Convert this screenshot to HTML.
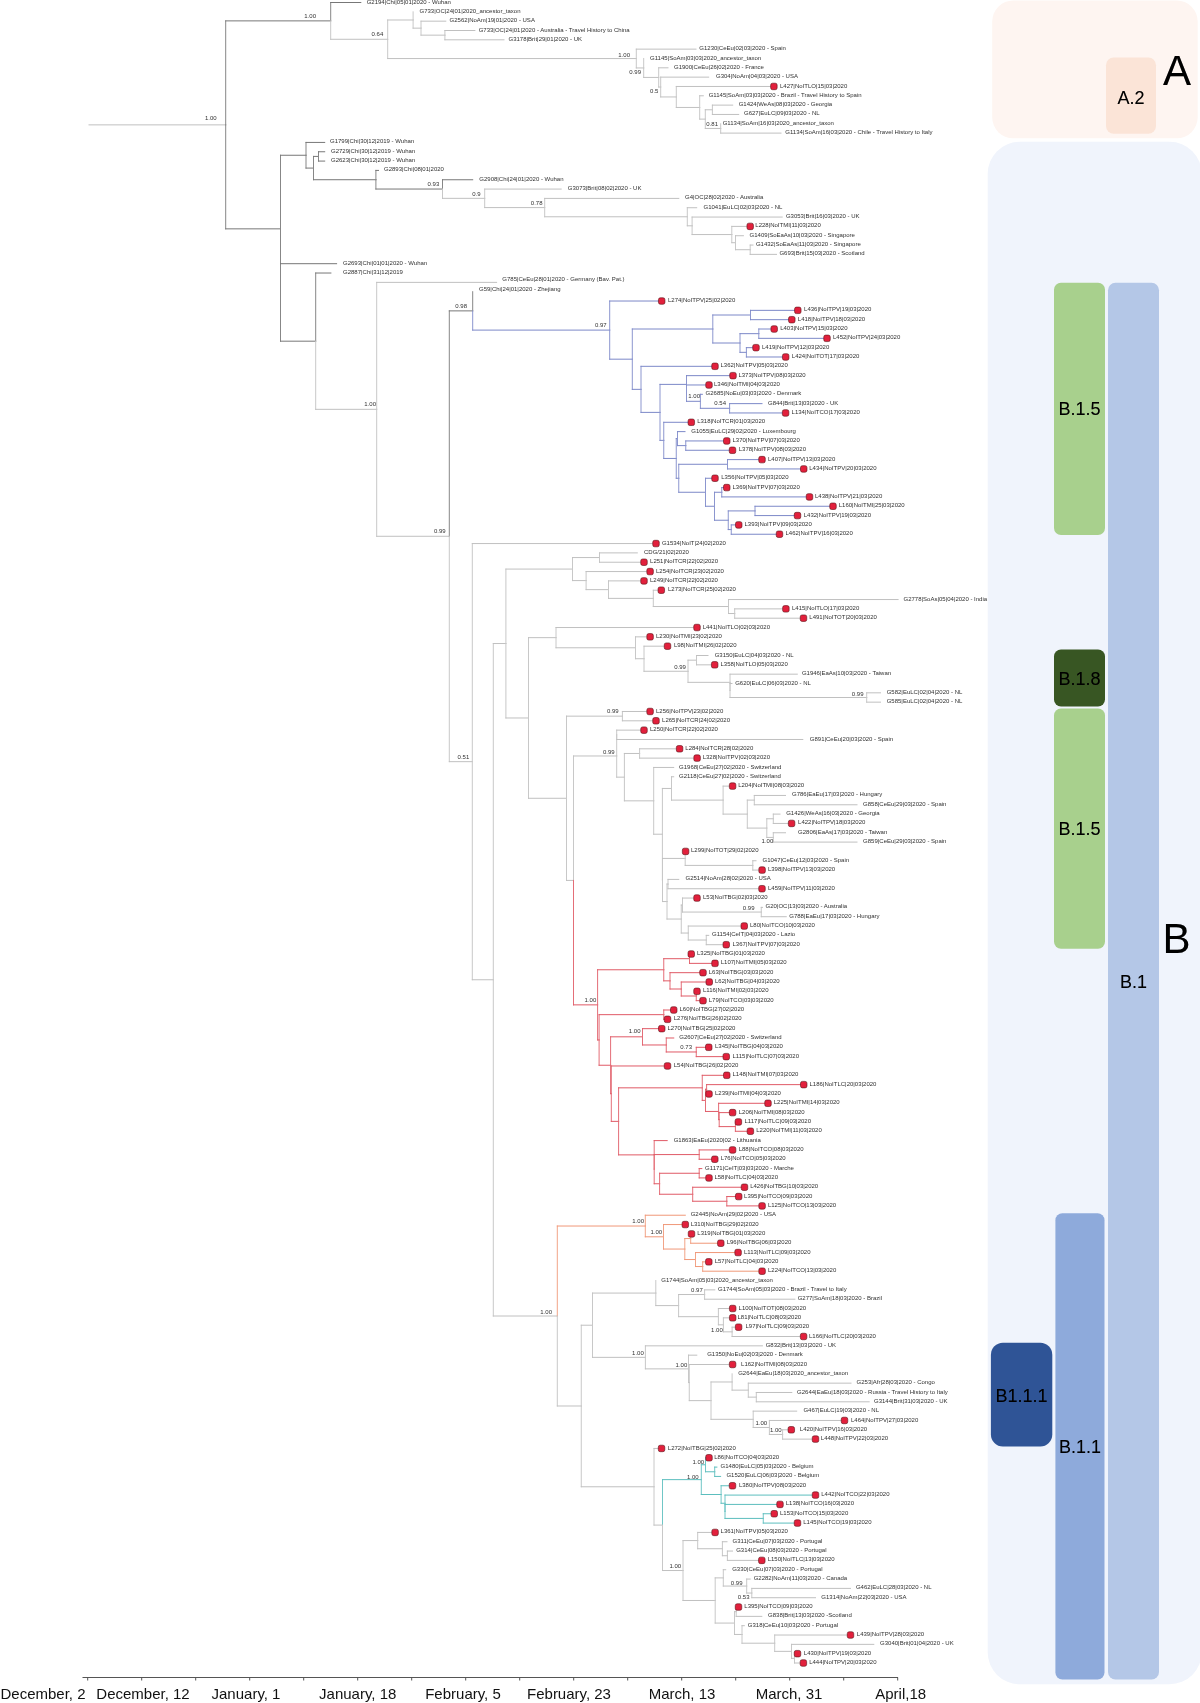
<!DOCTYPE html>
<html><head><meta charset="utf-8"><title>Phylogenetic tree</title>
<style>html,body{margin:0;padding:0;background:#fff;}body{width:1200px;height:1703px;overflow:hidden;font-family:"Liberation Sans",sans-serif;}svg{display:block;will-change:transform;}</style>
</head><body>
<svg width="1200" height="1703" viewBox="0 0 1200 1703">
<rect x="992.2" y="0.5" width="205.5" height="137.8" rx="21" fill="#fef5f1"/>
<rect x="1106" y="57.5" width="50" height="76.3" rx="7.7" fill="#fbe4d7"/>
<rect x="987.7" y="141.8" width="214" height="1542.5" rx="32" fill="#f0f4fc"/>
<rect x="1054" y="282.7" width="51" height="252.3" rx="7" fill="#a8d08d"/>
<rect x="1054" y="649.5" width="51" height="57.1" rx="7" fill="#385623"/>
<rect x="1054" y="708.5" width="51" height="240.3" rx="7" fill="#a8d08d"/>
<rect x="1108" y="282.7" width="51" height="1396.8" rx="7.5" fill="#b4c7e7"/>
<rect x="1055.4" y="1213.2" width="49.1" height="466.3" rx="7" fill="#8eaadb"/>
<rect x="990.9" y="1342.8" width="61.4" height="103.8" rx="12" fill="#2f5496"/>
<g font-family="Liberation Sans, sans-serif" fill="#000" text-anchor="middle" font-size="18" style="filter:drop-shadow(0.6px 0.8px 0.6px rgba(0,0,0,0.35))">
<text x="1131" y="103.5">A.2</text>
<text x="1079.5" y="415">B.1.5</text>
<text x="1079.5" y="685">B.1.8</text>
<text x="1079.5" y="835">B.1.5</text>
<text x="1133.5" y="988">B.1</text>
<text x="1021.6" y="1401.5">B1.1.1</text>
<text x="1080" y="1453">B.1.1</text>
<text x="1177" y="85.3" font-size="42">A</text>
<text x="1176.5" y="953.4" font-size="42">B</text>
</g>
<g stroke-width="1" fill="none" stroke-linecap="square">
<path d="M89 124.87L225.7 124.87" stroke="#c0c0c0"/>
<path d="M225.7 124.87L225.7 20.88" stroke="#878787"/>
<path d="M225.7 20.88L330.7 20.88" stroke="#777777"/>
<path d="M330.7 20.88L330.7 2.5" stroke="#878787"/>
<path d="M330.7 2.5L360.8 2.5" stroke="#777777"/>
<path d="M330.7 20.88L330.7 39.27" stroke="#c8c8c8"/>
<path d="M330.7 39.27L387.7 39.27" stroke="#c0c0c0"/>
<path d="M387.7 39.27L387.7 19.99" stroke="#c8c8c8"/>
<path d="M387.7 19.99L413.1 19.99" stroke="#c0c0c0"/>
<path d="M413.1 19.99L413.1 11.83" stroke="#c8c8c8"/>
<path d="M413.1 19.99L413.1 28.15" stroke="#c8c8c8"/>
<path d="M413.1 28.15L421 28.15" stroke="#c0c0c0"/>
<path d="M421 28.15L421 21.16" stroke="#c8c8c8"/>
<path d="M421 21.16L445.8 21.16" stroke="#c0c0c0"/>
<path d="M421 28.15L421 35.15" stroke="#c8c8c8"/>
<path d="M421 35.15L444.9 35.15" stroke="#c0c0c0"/>
<path d="M444.9 35.15L444.9 30.49" stroke="#c8c8c8"/>
<path d="M444.9 30.49L474.9 30.49" stroke="#c0c0c0"/>
<path d="M444.9 35.15L444.9 39.81" stroke="#c8c8c8"/>
<path d="M444.9 39.81L504 39.81" stroke="#c0c0c0"/>
<path d="M387.7 39.27L387.7 58.55" stroke="#c8c8c8"/>
<path d="M387.7 58.55L636.3 58.55" stroke="#c0c0c0"/>
<path d="M636.3 58.55L636.3 49.14" stroke="#c8c8c8"/>
<path d="M636.3 49.14L696 49.14" stroke="#c0c0c0"/>
<path d="M636.3 58.55L636.3 67.95" stroke="#c8c8c8"/>
<path d="M636.3 67.95L643.7 67.95" stroke="#c0c0c0"/>
<path d="M643.7 67.95L643.7 58.47" stroke="#c8c8c8"/>
<path d="M643.7 67.95L643.7 77.42" stroke="#c8c8c8"/>
<path d="M643.7 77.42L658.7 77.42" stroke="#c0c0c0"/>
<path d="M658.7 77.42L658.7 67.8" stroke="#c8c8c8"/>
<path d="M658.7 67.8L668 67.8" stroke="#c0c0c0"/>
<path d="M658.7 77.42L658.7 87.04" stroke="#c8c8c8"/>
<path d="M658.7 87.04L660.7 87.04" stroke="#c0c0c0"/>
<path d="M660.7 87.04L660.7 77.13" stroke="#c8c8c8"/>
<path d="M660.7 77.13L708.7 77.13" stroke="#c0c0c0"/>
<path d="M660.7 87.04L660.7 96.95" stroke="#c8c8c8"/>
<path d="M660.7 96.95L676.3 96.95" stroke="#c0c0c0"/>
<path d="M676.3 96.95L676.3 86.46" stroke="#c8c8c8"/>
<path d="M676.3 86.46L773.9 86.46" stroke="#c0c0c0"/>
<path d="M676.3 96.95L676.3 107.45" stroke="#c8c8c8"/>
<path d="M676.3 107.45L699.7 107.45" stroke="#c0c0c0"/>
<path d="M699.7 107.45L699.7 95.79" stroke="#c8c8c8"/>
<path d="M699.7 95.79L703.3 95.79" stroke="#c0c0c0"/>
<path d="M699.7 107.45L699.7 119.11" stroke="#c8c8c8"/>
<path d="M699.7 119.11L705.3 119.11" stroke="#c0c0c0"/>
<path d="M705.3 119.11L705.3 109.78" stroke="#c8c8c8"/>
<path d="M705.3 109.78L712.4 109.78" stroke="#c0c0c0"/>
<path d="M712.4 109.78L712.4 105.12" stroke="#c8c8c8"/>
<path d="M712.4 105.12L732.7 105.12" stroke="#c0c0c0"/>
<path d="M712.4 109.78L712.4 114.44" stroke="#c8c8c8"/>
<path d="M712.4 114.44L738.7 114.44" stroke="#c0c0c0"/>
<path d="M705.3 119.11L705.3 128.44" stroke="#c8c8c8"/>
<path d="M705.3 128.44L720.7 128.44" stroke="#c0c0c0"/>
<path d="M720.7 128.44L720.7 123.77" stroke="#c8c8c8"/>
<path d="M720.7 128.44L720.7 133.1" stroke="#c8c8c8"/>
<path d="M720.7 133.1L781 133.1" stroke="#c0c0c0"/>
<path d="M225.7 124.87L225.7 228.85" stroke="#878787"/>
<path d="M225.7 228.85L280.5 228.85" stroke="#777777"/>
<path d="M280.5 228.85L280.5 155.25" stroke="#878787"/>
<path d="M280.5 155.25L306 155.25" stroke="#777777"/>
<path d="M306 155.25L306 142.43" stroke="#878787"/>
<path d="M306 142.43L324.7 142.43" stroke="#777777"/>
<path d="M306 155.25L306 168.08" stroke="#878787"/>
<path d="M306 168.08L313.5 168.08" stroke="#777777"/>
<path d="M313.5 168.08L313.5 156.42" stroke="#878787"/>
<path d="M313.5 156.42L318.5 156.42" stroke="#777777"/>
<path d="M318.5 156.42L318.5 151.76" stroke="#878787"/>
<path d="M318.5 151.76L324.7 151.76" stroke="#777777"/>
<path d="M318.5 156.42L318.5 161.09" stroke="#878787"/>
<path d="M318.5 161.09L324.7 161.09" stroke="#777777"/>
<path d="M313.5 168.08L313.5 179.73" stroke="#878787"/>
<path d="M313.5 179.73L375.9 179.73" stroke="#777777"/>
<path d="M375.9 179.73L375.9 170.42" stroke="#878787"/>
<path d="M375.9 170.42L378.5 170.42" stroke="#777777"/>
<path d="M375.9 179.73L375.9 189.04" stroke="#878787"/>
<path d="M375.9 189.04L442.5 189.04" stroke="#777777"/>
<path d="M442.5 189.04L442.5 179.75" stroke="#878787"/>
<path d="M442.5 179.75L472.7 179.75" stroke="#777777"/>
<path d="M442.5 189.04L442.5 198.33" stroke="#c8c8c8"/>
<path d="M442.5 198.33L484.7 198.33" stroke="#c0c0c0"/>
<path d="M484.7 198.33L484.7 189.07" stroke="#c8c8c8"/>
<path d="M484.7 189.07L561.2 189.07" stroke="#c0c0c0"/>
<path d="M484.7 198.33L484.7 207.59" stroke="#c8c8c8"/>
<path d="M484.7 207.59L544.7 207.59" stroke="#c0c0c0"/>
<path d="M544.7 207.59L544.7 198.4" stroke="#c8c8c8"/>
<path d="M544.7 198.4L678.8 198.4" stroke="#c0c0c0"/>
<path d="M544.7 207.59L544.7 216.77" stroke="#c8c8c8"/>
<path d="M544.7 216.77L687.3 216.77" stroke="#c0c0c0"/>
<path d="M687.3 216.77L687.3 207.73" stroke="#c8c8c8"/>
<path d="M687.3 207.73L696.7 207.73" stroke="#c0c0c0"/>
<path d="M687.3 216.77L687.3 225.81" stroke="#c8c8c8"/>
<path d="M687.3 225.81L692.1 225.81" stroke="#c0c0c0"/>
<path d="M692.1 225.81L692.1 217.06" stroke="#c8c8c8"/>
<path d="M692.1 217.06L782.2 217.06" stroke="#c0c0c0"/>
<path d="M692.1 225.81L692.1 234.55" stroke="#c8c8c8"/>
<path d="M692.1 234.55L731.8 234.55" stroke="#c0c0c0"/>
<path d="M731.8 234.55L731.8 226.39" stroke="#c8c8c8"/>
<path d="M731.8 226.39L750.2 226.39" stroke="#c0c0c0"/>
<path d="M731.8 234.55L731.8 242.71" stroke="#c8c8c8"/>
<path d="M731.8 242.71L735.5 242.71" stroke="#c0c0c0"/>
<path d="M735.5 242.71L735.5 235.72" stroke="#c8c8c8"/>
<path d="M735.5 235.72L743.4 235.72" stroke="#c0c0c0"/>
<path d="M735.5 242.71L735.5 249.71" stroke="#c8c8c8"/>
<path d="M735.5 249.71L750.2 249.71" stroke="#c0c0c0"/>
<path d="M750.2 249.71L750.2 245.05" stroke="#c8c8c8"/>
<path d="M750.2 245.05L753 245.05" stroke="#c0c0c0"/>
<path d="M750.2 249.71L750.2 254.37" stroke="#c8c8c8"/>
<path d="M750.2 254.37L776.5 254.37" stroke="#c0c0c0"/>
<path d="M280.5 228.85L280.5 302.44" stroke="#878787"/>
<path d="M280.5 302.44L280.5 263.7" stroke="#878787"/>
<path d="M280.5 263.7L336.6 263.7" stroke="#777777"/>
<path d="M280.5 302.44L280.5 341.18" stroke="#878787"/>
<path d="M280.5 341.18L315.7 341.18" stroke="#777777"/>
<path d="M315.7 341.18L315.7 273.03" stroke="#878787"/>
<path d="M315.7 273.03L330.9 273.03" stroke="#777777"/>
<path d="M315.7 341.18L315.7 409.32" stroke="#c8c8c8"/>
<path d="M315.7 409.32L376.7 409.32" stroke="#c0c0c0"/>
<path d="M376.7 409.32L376.7 282.36" stroke="#c8c8c8"/>
<path d="M376.7 282.36L496.6 282.36" stroke="#c0c0c0"/>
<path d="M376.7 409.32L376.7 536.28" stroke="#c8c8c8"/>
<path d="M376.7 536.28L449.3 536.28" stroke="#c0c0c0"/>
<path d="M449.3 536.28L449.3 310.89" stroke="#878787"/>
<path d="M449.3 310.89L472.7 310.89" stroke="#777777"/>
<path d="M472.7 310.89L472.7 291.69" stroke="#878787"/>
<path d="M472.7 310.89L472.7 330.1" stroke="#8c96cf"/>
<path d="M472.7 330.1L609.7 330.1" stroke="#7c88c8"/>
<path d="M609.7 330.1L609.7 301.02" stroke="#8c96cf"/>
<path d="M609.7 301.02L661.7 301.02" stroke="#7c88c8"/>
<path d="M609.7 330.1L609.7 359.18" stroke="#8c96cf"/>
<path d="M609.7 359.18L632.3 359.18" stroke="#7c88c8"/>
<path d="M632.3 359.18L632.3 329" stroke="#8c96cf"/>
<path d="M632.3 329L712.8 329" stroke="#7c88c8"/>
<path d="M712.8 329L712.8 315.01" stroke="#8c96cf"/>
<path d="M712.8 315.01L750.5 315.01" stroke="#7c88c8"/>
<path d="M750.5 315.01L750.5 310.35" stroke="#8c96cf"/>
<path d="M750.5 310.35L797.8 310.35" stroke="#7c88c8"/>
<path d="M750.5 315.01L750.5 319.68" stroke="#8c96cf"/>
<path d="M750.5 319.68L791.8 319.68" stroke="#7c88c8"/>
<path d="M712.8 329L712.8 343" stroke="#8c96cf"/>
<path d="M712.8 343L740 343" stroke="#7c88c8"/>
<path d="M740 343L740 333.67" stroke="#8c96cf"/>
<path d="M740 333.67L758.8 333.67" stroke="#7c88c8"/>
<path d="M758.8 333.67L758.8 329" stroke="#8c96cf"/>
<path d="M758.8 329L774.2 329" stroke="#7c88c8"/>
<path d="M758.8 333.67L758.8 338.33" stroke="#8c96cf"/>
<path d="M758.8 338.33L827 338.33" stroke="#7c88c8"/>
<path d="M740 343L740 352.33" stroke="#8c96cf"/>
<path d="M740 352.33L746.4 352.33" stroke="#7c88c8"/>
<path d="M746.4 352.33L746.4 347.66" stroke="#8c96cf"/>
<path d="M746.4 347.66L756 347.66" stroke="#7c88c8"/>
<path d="M746.4 352.33L746.4 356.99" stroke="#8c96cf"/>
<path d="M746.4 356.99L785.7 356.99" stroke="#7c88c8"/>
<path d="M632.3 359.18L632.3 389.35" stroke="#8c96cf"/>
<path d="M632.3 389.35L641 389.35" stroke="#7c88c8"/>
<path d="M641 389.35L641 366.32" stroke="#8c96cf"/>
<path d="M641 366.32L715 366.32" stroke="#7c88c8"/>
<path d="M641 389.35L641 412.38" stroke="#8c96cf"/>
<path d="M641 412.38L660 412.38" stroke="#7c88c8"/>
<path d="M660 412.38L660 384.39" stroke="#8c96cf"/>
<path d="M660 384.39L686.5 384.39" stroke="#7c88c8"/>
<path d="M686.5 384.39L686.5 375.65" stroke="#8c96cf"/>
<path d="M686.5 375.65L733 375.65" stroke="#7c88c8"/>
<path d="M686.5 384.39L686.5 393.14" stroke="#8c96cf"/>
<path d="M686.5 393.14L686.5 384.98" stroke="#8c96cf"/>
<path d="M686.5 384.98L709 384.98" stroke="#7c88c8"/>
<path d="M686.5 393.14L686.5 401.3" stroke="#8c96cf"/>
<path d="M686.5 401.3L700.4 401.3" stroke="#7c88c8"/>
<path d="M700.4 401.3L700.4 394.31" stroke="#8c96cf"/>
<path d="M700.4 394.31L702.4 394.31" stroke="#7c88c8"/>
<path d="M700.4 401.3L700.4 408.3" stroke="#8c96cf"/>
<path d="M700.4 408.3L729.6 408.3" stroke="#7c88c8"/>
<path d="M729.6 408.3L729.6 403.63" stroke="#8c96cf"/>
<path d="M729.6 403.63L762 403.63" stroke="#7c88c8"/>
<path d="M729.6 408.3L729.6 412.96" stroke="#8c96cf"/>
<path d="M729.6 412.96L785.6 412.96" stroke="#7c88c8"/>
<path d="M660 412.38L660 440.37" stroke="#8c96cf"/>
<path d="M660 440.37L663.75 440.37" stroke="#7c88c8"/>
<path d="M663.75 440.37L663.75 422.29" stroke="#8c96cf"/>
<path d="M663.75 422.29L691.3 422.29" stroke="#7c88c8"/>
<path d="M663.75 440.37L663.75 458.44" stroke="#8c96cf"/>
<path d="M663.75 458.44L676.25 458.44" stroke="#7c88c8"/>
<path d="M676.25 458.44L676.25 438.62" stroke="#8c96cf"/>
<path d="M676.25 438.62L677.5 438.62" stroke="#7c88c8"/>
<path d="M677.5 438.62L677.5 431.62" stroke="#8c96cf"/>
<path d="M677.5 431.62L685 431.62" stroke="#7c88c8"/>
<path d="M677.5 438.62L677.5 445.61" stroke="#8c96cf"/>
<path d="M677.5 445.61L685.75 445.61" stroke="#7c88c8"/>
<path d="M685.75 445.61L685.75 440.95" stroke="#8c96cf"/>
<path d="M685.75 440.95L726.75 440.95" stroke="#7c88c8"/>
<path d="M685.75 445.61L685.75 450.28" stroke="#8c96cf"/>
<path d="M685.75 450.28L732.5 450.28" stroke="#7c88c8"/>
<path d="M676.25 458.44L676.25 478.26" stroke="#8c96cf"/>
<path d="M676.25 478.26L678.75 478.26" stroke="#7c88c8"/>
<path d="M678.75 478.26L678.75 464.27" stroke="#8c96cf"/>
<path d="M678.75 464.27L727.5 464.27" stroke="#7c88c8"/>
<path d="M727.5 464.27L727.5 459.61" stroke="#8c96cf"/>
<path d="M727.5 459.61L762 459.61" stroke="#7c88c8"/>
<path d="M727.5 464.27L727.5 468.94" stroke="#8c96cf"/>
<path d="M727.5 468.94L803.75 468.94" stroke="#7c88c8"/>
<path d="M678.75 478.26L678.75 492.26" stroke="#8c96cf"/>
<path d="M678.75 492.26L705.5 492.26" stroke="#7c88c8"/>
<path d="M705.5 492.26L705.5 478.26" stroke="#8c96cf"/>
<path d="M705.5 478.26L715 478.26" stroke="#7c88c8"/>
<path d="M705.5 492.26L705.5 506.25" stroke="#8c96cf"/>
<path d="M705.5 506.25L714.5 506.25" stroke="#7c88c8"/>
<path d="M714.5 506.25L714.5 492.26" stroke="#8c96cf"/>
<path d="M714.5 492.26L721.75 492.26" stroke="#7c88c8"/>
<path d="M721.75 492.26L721.75 487.59" stroke="#8c96cf"/>
<path d="M721.75 487.59L726.75 487.59" stroke="#7c88c8"/>
<path d="M721.75 492.26L721.75 496.92" stroke="#8c96cf"/>
<path d="M721.75 496.92L809.5 496.92" stroke="#7c88c8"/>
<path d="M714.5 506.25L714.5 520.24" stroke="#8c96cf"/>
<path d="M714.5 520.24L728.25 520.24" stroke="#7c88c8"/>
<path d="M728.25 520.24L728.25 510.91" stroke="#8c96cf"/>
<path d="M728.25 510.91L755 510.91" stroke="#7c88c8"/>
<path d="M755 510.91L755 506.25" stroke="#8c96cf"/>
<path d="M755 506.25L833 506.25" stroke="#7c88c8"/>
<path d="M755 510.91L755 515.58" stroke="#8c96cf"/>
<path d="M755 515.58L797.5 515.58" stroke="#7c88c8"/>
<path d="M728.25 520.24L728.25 529.57" stroke="#8c96cf"/>
<path d="M728.25 529.57L731.25 529.57" stroke="#7c88c8"/>
<path d="M731.25 529.57L731.25 524.91" stroke="#8c96cf"/>
<path d="M731.25 524.91L738.75 524.91" stroke="#7c88c8"/>
<path d="M731.25 529.57L731.25 534.24" stroke="#8c96cf"/>
<path d="M731.25 534.24L779.5 534.24" stroke="#7c88c8"/>
<path d="M449.3 536.28L449.3 761.66" stroke="#c8c8c8"/>
<path d="M449.3 761.66L472.3 761.66" stroke="#c0c0c0"/>
<path d="M472.3 761.66L472.3 543.56" stroke="#c8c8c8"/>
<path d="M472.3 543.56L656 543.56" stroke="#c0c0c0"/>
<path d="M472.3 761.66L472.3 979.76" stroke="#c8c8c8"/>
<path d="M472.3 979.76L493.3 979.76" stroke="#c0c0c0"/>
<path d="M493.3 979.76L493.3 643.52" stroke="#c8c8c8"/>
<path d="M493.3 643.52L505.9 643.52" stroke="#c0c0c0"/>
<path d="M505.9 643.52L505.9 569.07" stroke="#c8c8c8"/>
<path d="M505.9 569.07L572.5 569.07" stroke="#c0c0c0"/>
<path d="M572.5 569.07L572.5 557.56" stroke="#c8c8c8"/>
<path d="M572.5 557.56L599.5 557.56" stroke="#c0c0c0"/>
<path d="M599.5 557.56L599.5 552.89" stroke="#c8c8c8"/>
<path d="M599.5 552.89L637.3 552.89" stroke="#c0c0c0"/>
<path d="M599.5 557.56L599.5 562.22" stroke="#c8c8c8"/>
<path d="M599.5 562.22L644 562.22" stroke="#c0c0c0"/>
<path d="M572.5 569.07L572.5 580.59" stroke="#c8c8c8"/>
<path d="M572.5 580.59L586.1 580.59" stroke="#c0c0c0"/>
<path d="M586.1 580.59L586.1 571.55" stroke="#c8c8c8"/>
<path d="M586.1 571.55L650.1 571.55" stroke="#c0c0c0"/>
<path d="M586.1 580.59L586.1 589.63" stroke="#c8c8c8"/>
<path d="M586.1 589.63L608.5 589.63" stroke="#c0c0c0"/>
<path d="M608.5 589.63L608.5 580.88" stroke="#c8c8c8"/>
<path d="M608.5 580.88L644 580.88" stroke="#c0c0c0"/>
<path d="M608.5 589.63L608.5 598.37" stroke="#c8c8c8"/>
<path d="M608.5 598.37L653.3 598.37" stroke="#c0c0c0"/>
<path d="M653.3 598.37L653.3 590.21" stroke="#c8c8c8"/>
<path d="M653.3 590.21L661.3 590.21" stroke="#c0c0c0"/>
<path d="M653.3 598.37L653.3 606.53" stroke="#c8c8c8"/>
<path d="M653.3 606.53L728.5 606.53" stroke="#c0c0c0"/>
<path d="M728.5 606.53L728.5 599.54" stroke="#c8c8c8"/>
<path d="M728.5 599.54L898.1 599.54" stroke="#c0c0c0"/>
<path d="M728.5 606.53L728.5 613.53" stroke="#c8c8c8"/>
<path d="M728.5 613.53L734.7 613.53" stroke="#c0c0c0"/>
<path d="M734.7 613.53L734.7 608.87" stroke="#c8c8c8"/>
<path d="M734.7 608.87L785.9 608.87" stroke="#c0c0c0"/>
<path d="M734.7 613.53L734.7 618.19" stroke="#c8c8c8"/>
<path d="M734.7 618.19L803.5 618.19" stroke="#c0c0c0"/>
<path d="M505.9 643.52L505.9 717.97" stroke="#c8c8c8"/>
<path d="M505.9 717.97L528.5 717.97" stroke="#c0c0c0"/>
<path d="M528.5 717.97L528.5 637.65" stroke="#c8c8c8"/>
<path d="M528.5 637.65L556 637.65" stroke="#c0c0c0"/>
<path d="M556 637.65L556 627.52" stroke="#c8c8c8"/>
<path d="M556 627.52L697 627.52" stroke="#c0c0c0"/>
<path d="M556 637.65L556 647.78" stroke="#c8c8c8"/>
<path d="M556 647.78L635.5 647.78" stroke="#c0c0c0"/>
<path d="M635.5 647.78L635.5 636.85" stroke="#c8c8c8"/>
<path d="M635.5 636.85L650.1 636.85" stroke="#c0c0c0"/>
<path d="M635.5 647.78L635.5 658.72" stroke="#c8c8c8"/>
<path d="M635.5 658.72L644 658.72" stroke="#c0c0c0"/>
<path d="M644 658.72L644 646.18" stroke="#c8c8c8"/>
<path d="M644 646.18L667.5 646.18" stroke="#c0c0c0"/>
<path d="M644 658.72L644 671.25" stroke="#c8c8c8"/>
<path d="M644 671.25L688 671.25" stroke="#c0c0c0"/>
<path d="M688 671.25L688 660.17" stroke="#c8c8c8"/>
<path d="M688 660.17L696.5 660.17" stroke="#c0c0c0"/>
<path d="M696.5 660.17L696.5 655.51" stroke="#c8c8c8"/>
<path d="M696.5 655.51L708 655.51" stroke="#c0c0c0"/>
<path d="M696.5 660.17L696.5 664.84" stroke="#c8c8c8"/>
<path d="M696.5 664.84L714.7 664.84" stroke="#c0c0c0"/>
<path d="M688 671.25L688 682.33" stroke="#c8c8c8"/>
<path d="M688 682.33L730 682.33" stroke="#c0c0c0"/>
<path d="M730 682.33L730 674.17" stroke="#c8c8c8"/>
<path d="M730 674.17L797.3 674.17" stroke="#c0c0c0"/>
<path d="M730 682.33L730 690.49" stroke="#c8c8c8"/>
<path d="M730 690.49L730 683.5" stroke="#c8c8c8"/>
<path d="M730 683.5L732 683.5" stroke="#c0c0c0"/>
<path d="M730 690.49L730 697.49" stroke="#c8c8c8"/>
<path d="M730 697.49L866.7 697.49" stroke="#c0c0c0"/>
<path d="M866.7 697.49L866.7 692.82" stroke="#c8c8c8"/>
<path d="M866.7 692.82L880.5 692.82" stroke="#c0c0c0"/>
<path d="M866.7 697.49L866.7 702.15" stroke="#c8c8c8"/>
<path d="M866.7 702.15L880.5 702.15" stroke="#c0c0c0"/>
<path d="M528.5 717.97L528.5 798.28" stroke="#c8c8c8"/>
<path d="M528.5 798.28L566.5 798.28" stroke="#c0c0c0"/>
<path d="M566.5 798.28L566.5 716.15" stroke="#c8c8c8"/>
<path d="M566.5 716.15L622.4 716.15" stroke="#c0c0c0"/>
<path d="M622.4 716.15L622.4 711.48" stroke="#c8c8c8"/>
<path d="M622.4 711.48L650.1 711.48" stroke="#c0c0c0"/>
<path d="M622.4 716.15L622.4 720.81" stroke="#c8c8c8"/>
<path d="M622.4 720.81L656 720.81" stroke="#c0c0c0"/>
<path d="M566.5 798.28L566.5 880.42" stroke="#c8c8c8"/>
<path d="M566.5 880.42L573.5 880.42" stroke="#c0c0c0"/>
<path d="M573.5 880.42L573.5 755.97" stroke="#c8c8c8"/>
<path d="M573.5 755.97L616.7 755.97" stroke="#c0c0c0"/>
<path d="M616.7 755.97L616.7 734.8" stroke="#c8c8c8"/>
<path d="M616.7 734.8L616.7 730.14" stroke="#c8c8c8"/>
<path d="M616.7 730.14L644 730.14" stroke="#c0c0c0"/>
<path d="M616.7 734.8L616.7 739.47" stroke="#c8c8c8"/>
<path d="M616.7 739.47L802.8 739.47" stroke="#c0c0c0"/>
<path d="M616.7 755.97L616.7 777.15" stroke="#c8c8c8"/>
<path d="M616.7 777.15L624.4 777.15" stroke="#c0c0c0"/>
<path d="M624.4 777.15L624.4 753.46" stroke="#c8c8c8"/>
<path d="M624.4 753.46L639.6 753.46" stroke="#c0c0c0"/>
<path d="M639.6 753.46L639.6 748.8" stroke="#c8c8c8"/>
<path d="M639.6 748.8L679.6 748.8" stroke="#c0c0c0"/>
<path d="M639.6 753.46L639.6 758.12" stroke="#c8c8c8"/>
<path d="M639.6 758.12L697.1 758.12" stroke="#c0c0c0"/>
<path d="M624.4 777.15L624.4 800.83" stroke="#c8c8c8"/>
<path d="M624.4 800.83L653.7 800.83" stroke="#c0c0c0"/>
<path d="M653.7 800.83L653.7 767.45" stroke="#c8c8c8"/>
<path d="M653.7 767.45L673.7 767.45" stroke="#c0c0c0"/>
<path d="M653.7 800.83L653.7 834.21" stroke="#c8c8c8"/>
<path d="M653.7 834.21L662.4 834.21" stroke="#c0c0c0"/>
<path d="M662.4 834.21L662.4 788.44" stroke="#c8c8c8"/>
<path d="M662.4 788.44L671.5 788.44" stroke="#c0c0c0"/>
<path d="M671.5 788.44L671.5 776.78" stroke="#c8c8c8"/>
<path d="M671.5 776.78L673.7 776.78" stroke="#c0c0c0"/>
<path d="M671.5 788.44L671.5 800.1" stroke="#c8c8c8"/>
<path d="M671.5 800.1L723.1 800.1" stroke="#c0c0c0"/>
<path d="M723.1 800.1L723.1 786.11" stroke="#c8c8c8"/>
<path d="M723.1 786.11L732.6 786.11" stroke="#c0c0c0"/>
<path d="M723.1 800.1L723.1 814.1" stroke="#c8c8c8"/>
<path d="M723.1 814.1L747.3 814.1" stroke="#c0c0c0"/>
<path d="M747.3 814.1L747.3 800.1" stroke="#c8c8c8"/>
<path d="M747.3 800.1L754.3 800.1" stroke="#c0c0c0"/>
<path d="M754.3 800.1L754.3 795.44" stroke="#c8c8c8"/>
<path d="M754.3 795.44L785.5 795.44" stroke="#c0c0c0"/>
<path d="M754.3 800.1L754.3 804.77" stroke="#c8c8c8"/>
<path d="M754.3 804.77L857 804.77" stroke="#c0c0c0"/>
<path d="M747.3 814.1L747.3 828.09" stroke="#c8c8c8"/>
<path d="M747.3 828.09L766.8 828.09" stroke="#c0c0c0"/>
<path d="M766.8 828.09L766.8 818.76" stroke="#c8c8c8"/>
<path d="M766.8 818.76L773.3 818.76" stroke="#c0c0c0"/>
<path d="M773.3 818.76L773.3 814.1" stroke="#c8c8c8"/>
<path d="M773.3 814.1L780 814.1" stroke="#c0c0c0"/>
<path d="M773.3 818.76L773.3 823.43" stroke="#c8c8c8"/>
<path d="M773.3 823.43L791.6 823.43" stroke="#c0c0c0"/>
<path d="M766.8 828.09L766.8 837.42" stroke="#c8c8c8"/>
<path d="M766.8 837.42L773.3 837.42" stroke="#c0c0c0"/>
<path d="M773.3 837.42L773.3 832.75" stroke="#c8c8c8"/>
<path d="M773.3 832.75L785.5 832.75" stroke="#c0c0c0"/>
<path d="M773.3 837.42L773.3 842.08" stroke="#c8c8c8"/>
<path d="M773.3 842.08L857 842.08" stroke="#c0c0c0"/>
<path d="M662.4 834.21L662.4 879.98" stroke="#c8c8c8"/>
<path d="M662.4 879.98L662.5 879.98" stroke="#c0c0c0"/>
<path d="M662.5 879.98L662.5 858.41" stroke="#c8c8c8"/>
<path d="M662.5 858.41L685.2 858.41" stroke="#c0c0c0"/>
<path d="M685.2 858.41L685.2 851.41" stroke="#c8c8c8"/>
<path d="M685.2 851.41L685.6 851.41" stroke="#c0c0c0"/>
<path d="M685.2 858.41L685.2 865.4" stroke="#c8c8c8"/>
<path d="M685.2 865.4L752.8 865.4" stroke="#c0c0c0"/>
<path d="M752.8 865.4L752.8 860.74" stroke="#c8c8c8"/>
<path d="M752.8 860.74L756 860.74" stroke="#c0c0c0"/>
<path d="M752.8 865.4L752.8 870.07" stroke="#c8c8c8"/>
<path d="M752.8 870.07L762.1 870.07" stroke="#c0c0c0"/>
<path d="M662.5 879.98L662.5 901.55" stroke="#c8c8c8"/>
<path d="M662.5 901.55L667 901.55" stroke="#c0c0c0"/>
<path d="M667 901.55L667 884.06" stroke="#c8c8c8"/>
<path d="M667 884.06L668 884.06" stroke="#c0c0c0"/>
<path d="M668 884.06L668 879.4" stroke="#c8c8c8"/>
<path d="M668 879.4L678.75 879.4" stroke="#c0c0c0"/>
<path d="M668 884.06L668 888.73" stroke="#c8c8c8"/>
<path d="M668 888.73L762 888.73" stroke="#c0c0c0"/>
<path d="M667 901.55L667 919.04" stroke="#c8c8c8"/>
<path d="M667 919.04L681.25 919.04" stroke="#c0c0c0"/>
<path d="M681.25 919.04L681.25 905.05" stroke="#c8c8c8"/>
<path d="M681.25 905.05L682.5 905.05" stroke="#c0c0c0"/>
<path d="M682.5 905.05L682.5 898.06" stroke="#c8c8c8"/>
<path d="M682.5 898.06L697 898.06" stroke="#c0c0c0"/>
<path d="M682.5 905.05L682.5 912.05" stroke="#c8c8c8"/>
<path d="M682.5 912.05L761.25 912.05" stroke="#c0c0c0"/>
<path d="M761.25 912.05L761.25 907.38" stroke="#c8c8c8"/>
<path d="M761.25 907.38L762.5 907.38" stroke="#c0c0c0"/>
<path d="M761.25 912.05L761.25 916.71" stroke="#c8c8c8"/>
<path d="M761.25 916.71L786.25 916.71" stroke="#c0c0c0"/>
<path d="M681.25 919.04L681.25 933.04" stroke="#c8c8c8"/>
<path d="M681.25 933.04L688.25 933.04" stroke="#c0c0c0"/>
<path d="M688.25 933.04L688.25 926.04" stroke="#c8c8c8"/>
<path d="M688.25 926.04L744.25 926.04" stroke="#c0c0c0"/>
<path d="M688.25 933.04L688.25 940.03" stroke="#c8c8c8"/>
<path d="M688.25 940.03L706.25 940.03" stroke="#c0c0c0"/>
<path d="M706.25 940.03L706.25 935.37" stroke="#c8c8c8"/>
<path d="M706.25 935.37L708.75 935.37" stroke="#c0c0c0"/>
<path d="M706.25 940.03L706.25 944.7" stroke="#c8c8c8"/>
<path d="M706.25 944.7L726.25 944.7" stroke="#c0c0c0"/>
<path d="M573.5 880.42L573.5 1004.86" stroke="#e46e78"/>
<path d="M573.5 1004.86L597.6 1004.86" stroke="#e05a66"/>
<path d="M597.6 1004.86L597.6 969.77" stroke="#e46e78"/>
<path d="M597.6 969.77L663.75 969.77" stroke="#e05a66"/>
<path d="M663.75 969.77L663.75 958.69" stroke="#e46e78"/>
<path d="M663.75 958.69L689.5 958.69" stroke="#e05a66"/>
<path d="M689.5 958.69L689.5 954.03" stroke="#e46e78"/>
<path d="M689.5 954.03L691.25 954.03" stroke="#e05a66"/>
<path d="M689.5 958.69L689.5 963.36" stroke="#e46e78"/>
<path d="M689.5 963.36L715 963.36" stroke="#e05a66"/>
<path d="M663.75 969.77L663.75 980.85" stroke="#e46e78"/>
<path d="M663.75 980.85L670 980.85" stroke="#e05a66"/>
<path d="M670 980.85L670 972.68" stroke="#e46e78"/>
<path d="M670 972.68L703 972.68" stroke="#e05a66"/>
<path d="M670 980.85L670 989.01" stroke="#e46e78"/>
<path d="M670 989.01L681.25 989.01" stroke="#e05a66"/>
<path d="M681.25 989.01L681.25 982.01" stroke="#e46e78"/>
<path d="M681.25 982.01L709.25 982.01" stroke="#e05a66"/>
<path d="M681.25 989.01L681.25 996.01" stroke="#e46e78"/>
<path d="M681.25 996.01L696.25 996.01" stroke="#e05a66"/>
<path d="M696.25 996.01L696.25 991.34" stroke="#e46e78"/>
<path d="M696.25 991.34L697 991.34" stroke="#e05a66"/>
<path d="M696.25 996.01L696.25 1000.67" stroke="#e46e78"/>
<path d="M696.25 1000.67L703 1000.67" stroke="#e05a66"/>
<path d="M597.6 1004.86L597.6 1039.95" stroke="#e46e78"/>
<path d="M597.6 1039.95L599.1 1039.95" stroke="#e05a66"/>
<path d="M599.1 1039.95L599.1 1014.66" stroke="#e46e78"/>
<path d="M599.1 1014.66L663.75 1014.66" stroke="#e05a66"/>
<path d="M663.75 1014.66L663.75 1010" stroke="#e46e78"/>
<path d="M663.75 1010L673.75 1010" stroke="#e05a66"/>
<path d="M663.75 1014.66L663.75 1019.33" stroke="#e46e78"/>
<path d="M663.75 1019.33L667.5 1019.33" stroke="#e05a66"/>
<path d="M599.1 1039.95L599.1 1065.24" stroke="#e46e78"/>
<path d="M599.1 1065.24L610.6 1065.24" stroke="#e05a66"/>
<path d="M610.6 1065.24L610.6 1036.82" stroke="#e46e78"/>
<path d="M610.6 1036.82L642.5 1036.82" stroke="#e05a66"/>
<path d="M642.5 1036.82L642.5 1028.66" stroke="#e46e78"/>
<path d="M642.5 1028.66L661.75 1028.66" stroke="#e05a66"/>
<path d="M642.5 1036.82L642.5 1044.98" stroke="#e46e78"/>
<path d="M642.5 1044.98L666.25 1044.98" stroke="#e05a66"/>
<path d="M666.25 1044.98L666.25 1037.99" stroke="#e46e78"/>
<path d="M666.25 1037.99L673.75 1037.99" stroke="#e05a66"/>
<path d="M666.25 1044.98L666.25 1051.98" stroke="#e46e78"/>
<path d="M666.25 1051.98L696.25 1051.98" stroke="#e05a66"/>
<path d="M696.25 1051.98L696.25 1047.31" stroke="#e46e78"/>
<path d="M696.25 1047.31L708.75 1047.31" stroke="#e05a66"/>
<path d="M696.25 1051.98L696.25 1056.64" stroke="#e46e78"/>
<path d="M696.25 1056.64L726.25 1056.64" stroke="#e05a66"/>
<path d="M610.6 1065.24L610.6 1093.67" stroke="#e46e78"/>
<path d="M610.6 1093.67L611.3 1093.67" stroke="#e05a66"/>
<path d="M611.3 1093.67L611.3 1065.97" stroke="#e46e78"/>
<path d="M611.3 1065.97L667.5 1065.97" stroke="#e05a66"/>
<path d="M611.3 1093.67L611.3 1121.36" stroke="#e46e78"/>
<path d="M611.3 1121.36L618.6 1121.36" stroke="#e05a66"/>
<path d="M618.6 1121.36L618.6 1087.84" stroke="#e46e78"/>
<path d="M618.6 1087.84L702.25 1087.84" stroke="#e05a66"/>
<path d="M702.25 1087.84L702.25 1075.3" stroke="#e46e78"/>
<path d="M702.25 1075.3L726.75 1075.3" stroke="#e05a66"/>
<path d="M702.25 1087.84L702.25 1100.37" stroke="#e46e78"/>
<path d="M702.25 1100.37L705.5 1100.37" stroke="#e05a66"/>
<path d="M705.5 1100.37L705.5 1089.29" stroke="#e46e78"/>
<path d="M705.5 1089.29L706.6 1089.29" stroke="#e05a66"/>
<path d="M706.6 1089.29L706.6 1084.63" stroke="#e46e78"/>
<path d="M706.6 1084.63L803.75 1084.63" stroke="#e05a66"/>
<path d="M706.6 1089.29L706.6 1093.96" stroke="#e46e78"/>
<path d="M706.6 1093.96L709 1093.96" stroke="#e05a66"/>
<path d="M705.5 1100.37L705.5 1111.45" stroke="#e46e78"/>
<path d="M705.5 1111.45L718.6 1111.45" stroke="#e05a66"/>
<path d="M718.6 1111.45L718.6 1103.29" stroke="#e46e78"/>
<path d="M718.6 1103.29L768 1103.29" stroke="#e05a66"/>
<path d="M718.6 1111.45L718.6 1119.61" stroke="#e46e78"/>
<path d="M718.6 1119.61L719.2 1119.61" stroke="#e05a66"/>
<path d="M719.2 1119.61L719.2 1112.62" stroke="#e46e78"/>
<path d="M719.2 1112.62L732.6 1112.62" stroke="#e05a66"/>
<path d="M719.2 1119.61L719.2 1126.61" stroke="#e46e78"/>
<path d="M719.2 1126.61L735.4 1126.61" stroke="#e05a66"/>
<path d="M735.4 1126.61L735.4 1121.94" stroke="#e46e78"/>
<path d="M735.4 1121.94L738.4 1121.94" stroke="#e05a66"/>
<path d="M735.4 1126.61L735.4 1131.27" stroke="#e46e78"/>
<path d="M735.4 1131.27L750.4 1131.27" stroke="#e05a66"/>
<path d="M618.6 1121.36L618.6 1154.89" stroke="#e46e78"/>
<path d="M618.6 1154.89L654.2 1154.89" stroke="#e05a66"/>
<path d="M654.2 1154.89L654.2 1140.6" stroke="#e46e78"/>
<path d="M654.2 1140.6L667.2 1140.6" stroke="#e05a66"/>
<path d="M654.2 1154.89L654.2 1169.17" stroke="#e46e78"/>
<path d="M654.2 1169.17L654.2 1154.59" stroke="#e46e78"/>
<path d="M654.2 1154.59L699.2 1154.59" stroke="#e05a66"/>
<path d="M699.2 1154.59L699.2 1149.93" stroke="#e46e78"/>
<path d="M699.2 1149.93L732.6 1149.93" stroke="#e05a66"/>
<path d="M699.2 1154.59L699.2 1159.26" stroke="#e46e78"/>
<path d="M699.2 1159.26L714.8 1159.26" stroke="#e05a66"/>
<path d="M654.2 1169.17L654.2 1183.75" stroke="#e46e78"/>
<path d="M654.2 1183.75L659.6 1183.75" stroke="#e05a66"/>
<path d="M659.6 1183.75L659.6 1173.25" stroke="#e46e78"/>
<path d="M659.6 1173.25L699.2 1173.25" stroke="#e05a66"/>
<path d="M699.2 1173.25L699.2 1168.59" stroke="#e46e78"/>
<path d="M699.2 1168.59L701.8 1168.59" stroke="#e05a66"/>
<path d="M699.2 1173.25L699.2 1177.92" stroke="#e46e78"/>
<path d="M699.2 1177.92L709 1177.92" stroke="#e05a66"/>
<path d="M659.6 1183.75L659.6 1194.24" stroke="#e46e78"/>
<path d="M659.6 1194.24L692.7 1194.24" stroke="#e05a66"/>
<path d="M692.7 1194.24L692.7 1187.24" stroke="#e46e78"/>
<path d="M692.7 1187.24L744.5 1187.24" stroke="#e05a66"/>
<path d="M692.7 1194.24L692.7 1201.24" stroke="#e46e78"/>
<path d="M692.7 1201.24L726.8 1201.24" stroke="#e05a66"/>
<path d="M726.8 1201.24L726.8 1196.57" stroke="#e46e78"/>
<path d="M726.8 1196.57L738.7 1196.57" stroke="#e05a66"/>
<path d="M726.8 1201.24L726.8 1205.9" stroke="#e46e78"/>
<path d="M726.8 1205.9L762.1 1205.9" stroke="#e05a66"/>
<path d="M493.3 979.76L493.3 1316" stroke="#c8c8c8"/>
<path d="M493.3 1316L557.3 1316" stroke="#c0c0c0"/>
<path d="M557.3 1316L557.3 1226.02" stroke="#f2a488"/>
<path d="M557.3 1226.02L645.3 1226.02" stroke="#f09878"/>
<path d="M645.3 1226.02L645.3 1215.23" stroke="#f2a488"/>
<path d="M645.3 1215.23L685.3 1215.23" stroke="#f09878"/>
<path d="M645.3 1226.02L645.3 1236.8" stroke="#f2a488"/>
<path d="M645.3 1236.8L663.5 1236.8" stroke="#f09878"/>
<path d="M663.5 1236.8L663.5 1224.56" stroke="#f2a488"/>
<path d="M663.5 1224.56L685.3 1224.56" stroke="#f09878"/>
<path d="M663.5 1236.8L663.5 1249.05" stroke="#f2a488"/>
<path d="M663.5 1249.05L684.8 1249.05" stroke="#f09878"/>
<path d="M684.8 1249.05L684.8 1238.55" stroke="#f2a488"/>
<path d="M684.8 1238.55L690.7 1238.55" stroke="#f09878"/>
<path d="M690.7 1238.55L690.7 1233.89" stroke="#f2a488"/>
<path d="M690.7 1233.89L691.5 1233.89" stroke="#f09878"/>
<path d="M690.7 1238.55L690.7 1243.22" stroke="#f2a488"/>
<path d="M690.7 1243.22L720.8 1243.22" stroke="#f09878"/>
<path d="M684.8 1249.05L684.8 1259.54" stroke="#f2a488"/>
<path d="M684.8 1259.54L695.5 1259.54" stroke="#f09878"/>
<path d="M695.5 1259.54L695.5 1252.55" stroke="#f2a488"/>
<path d="M695.5 1252.55L738.1 1252.55" stroke="#f09878"/>
<path d="M695.5 1259.54L695.5 1266.54" stroke="#f2a488"/>
<path d="M695.5 1266.54L702.7 1266.54" stroke="#f09878"/>
<path d="M702.7 1266.54L702.7 1261.87" stroke="#f2a488"/>
<path d="M702.7 1261.87L708.8 1261.87" stroke="#f09878"/>
<path d="M702.7 1266.54L702.7 1271.2" stroke="#f2a488"/>
<path d="M702.7 1271.2L762.1 1271.2" stroke="#f09878"/>
<path d="M557.3 1316L557.3 1405.99" stroke="#c8c8c8"/>
<path d="M557.3 1405.99L581.25 1405.99" stroke="#c0c0c0"/>
<path d="M581.25 1405.99L581.25 1325.21" stroke="#c8c8c8"/>
<path d="M581.25 1325.21L592.5 1325.21" stroke="#c0c0c0"/>
<path d="M592.5 1325.21L592.5 1293.07" stroke="#c8c8c8"/>
<path d="M592.5 1293.07L655.8 1293.07" stroke="#c0c0c0"/>
<path d="M655.8 1293.07L655.8 1280.53" stroke="#c8c8c8"/>
<path d="M655.8 1293.07L655.8 1305.6" stroke="#c8c8c8"/>
<path d="M655.8 1305.6L678.6 1305.6" stroke="#c0c0c0"/>
<path d="M678.6 1305.6L678.6 1294.52" stroke="#c8c8c8"/>
<path d="M678.6 1294.52L704.6 1294.52" stroke="#c0c0c0"/>
<path d="M704.6 1294.52L704.6 1289.86" stroke="#c8c8c8"/>
<path d="M704.6 1289.86L714.8 1289.86" stroke="#c0c0c0"/>
<path d="M704.6 1294.52L704.6 1299.19" stroke="#c8c8c8"/>
<path d="M704.6 1299.19L794.9 1299.19" stroke="#c0c0c0"/>
<path d="M678.6 1305.6L678.6 1316.68" stroke="#c8c8c8"/>
<path d="M678.6 1316.68L718.4 1316.68" stroke="#c0c0c0"/>
<path d="M718.4 1316.68L718.4 1308.52" stroke="#c8c8c8"/>
<path d="M718.4 1308.52L732.7 1308.52" stroke="#c0c0c0"/>
<path d="M718.4 1316.68L718.4 1324.84" stroke="#c8c8c8"/>
<path d="M718.4 1324.84L723.4 1324.84" stroke="#c0c0c0"/>
<path d="M723.4 1324.84L723.4 1317.85" stroke="#c8c8c8"/>
<path d="M723.4 1317.85L732.7 1317.85" stroke="#c0c0c0"/>
<path d="M723.4 1324.84L723.4 1331.84" stroke="#c8c8c8"/>
<path d="M723.4 1331.84L732.1 1331.84" stroke="#c0c0c0"/>
<path d="M732.1 1331.84L732.1 1327.18" stroke="#c8c8c8"/>
<path d="M732.1 1327.18L738.6 1327.18" stroke="#c0c0c0"/>
<path d="M732.1 1331.84L732.1 1336.5" stroke="#c8c8c8"/>
<path d="M732.1 1336.5L803.6 1336.5" stroke="#c0c0c0"/>
<path d="M592.5 1325.21L592.5 1357.35" stroke="#c8c8c8"/>
<path d="M592.5 1357.35L645.4 1357.35" stroke="#c0c0c0"/>
<path d="M645.4 1357.35L645.4 1345.83" stroke="#c8c8c8"/>
<path d="M645.4 1345.83L762.4 1345.83" stroke="#c0c0c0"/>
<path d="M645.4 1357.35L645.4 1368.86" stroke="#c8c8c8"/>
<path d="M645.4 1368.86L688.5 1368.86" stroke="#c0c0c0"/>
<path d="M688.5 1368.86L688.5 1355.16" stroke="#c8c8c8"/>
<path d="M688.5 1355.16L696.8 1355.16" stroke="#c0c0c0"/>
<path d="M688.5 1368.86L688.5 1382.56" stroke="#c8c8c8"/>
<path d="M688.5 1382.56L689.25 1382.56" stroke="#c0c0c0"/>
<path d="M689.25 1382.56L689.25 1364.49" stroke="#c8c8c8"/>
<path d="M689.25 1364.49L732.6 1364.49" stroke="#c0c0c0"/>
<path d="M689.25 1382.56L689.25 1400.64" stroke="#c8c8c8"/>
<path d="M689.25 1400.64L711 1400.64" stroke="#c0c0c0"/>
<path d="M711 1400.64L711 1381.98" stroke="#c8c8c8"/>
<path d="M711 1381.98L732.1 1381.98" stroke="#c0c0c0"/>
<path d="M732.1 1381.98L732.1 1373.82" stroke="#c8c8c8"/>
<path d="M732.1 1381.98L732.1 1390.14" stroke="#c8c8c8"/>
<path d="M732.1 1390.14L748.3 1390.14" stroke="#c0c0c0"/>
<path d="M748.3 1390.14L748.3 1383.15" stroke="#c8c8c8"/>
<path d="M748.3 1383.15L851 1383.15" stroke="#c0c0c0"/>
<path d="M748.3 1390.14L748.3 1397.14" stroke="#c8c8c8"/>
<path d="M748.3 1397.14L756.3 1397.14" stroke="#c0c0c0"/>
<path d="M756.3 1397.14L756.3 1392.48" stroke="#c8c8c8"/>
<path d="M756.3 1392.48L791.8 1392.48" stroke="#c0c0c0"/>
<path d="M756.3 1397.14L756.3 1401.8" stroke="#c8c8c8"/>
<path d="M756.3 1401.8L869.2 1401.8" stroke="#c0c0c0"/>
<path d="M711 1400.64L711 1419.3" stroke="#c8c8c8"/>
<path d="M711 1419.3L753.2 1419.3" stroke="#c0c0c0"/>
<path d="M753.2 1419.3L753.2 1411.13" stroke="#c8c8c8"/>
<path d="M753.2 1411.13L796.7 1411.13" stroke="#c0c0c0"/>
<path d="M753.2 1419.3L753.2 1427.46" stroke="#c8c8c8"/>
<path d="M753.2 1427.46L769.4 1427.46" stroke="#c0c0c0"/>
<path d="M769.4 1427.46L769.4 1420.46" stroke="#c8c8c8"/>
<path d="M769.4 1420.46L844.5 1420.46" stroke="#c0c0c0"/>
<path d="M769.4 1427.46L769.4 1434.46" stroke="#c8c8c8"/>
<path d="M769.4 1434.46L782.6 1434.46" stroke="#c0c0c0"/>
<path d="M782.6 1434.46L782.6 1429.79" stroke="#c8c8c8"/>
<path d="M782.6 1429.79L791.3 1429.79" stroke="#c0c0c0"/>
<path d="M782.6 1434.46L782.6 1439.12" stroke="#c8c8c8"/>
<path d="M782.6 1439.12L815.5 1439.12" stroke="#c0c0c0"/>
<path d="M581.25 1405.99L581.25 1486.77" stroke="#c8c8c8"/>
<path d="M581.25 1486.77L654 1486.77" stroke="#c0c0c0"/>
<path d="M654 1486.77L654 1448.45" stroke="#c8c8c8"/>
<path d="M654 1448.45L661.55 1448.45" stroke="#c0c0c0"/>
<path d="M654 1486.77L654 1525.08" stroke="#c8c8c8"/>
<path d="M654 1525.08L662.5 1525.08" stroke="#c0c0c0"/>
<path d="M662.5 1525.08L662.5 1479.64" stroke="#70c6c6"/>
<path d="M662.5 1479.64L701.3 1479.64" stroke="#5cbebe"/>
<path d="M701.3 1479.64L701.3 1464.77" stroke="#70c6c6"/>
<path d="M701.3 1464.77L705.5 1464.77" stroke="#5cbebe"/>
<path d="M705.5 1464.77L705.5 1457.78" stroke="#70c6c6"/>
<path d="M705.5 1457.78L709 1457.78" stroke="#5cbebe"/>
<path d="M705.5 1464.77L705.5 1471.77" stroke="#70c6c6"/>
<path d="M705.5 1471.77L714.7 1471.77" stroke="#5cbebe"/>
<path d="M714.7 1471.77L714.7 1467.11" stroke="#70c6c6"/>
<path d="M714.7 1467.11L716.9 1467.11" stroke="#5cbebe"/>
<path d="M714.7 1471.77L714.7 1476.43" stroke="#70c6c6"/>
<path d="M714.7 1476.43L720.6 1476.43" stroke="#5cbebe"/>
<path d="M701.3 1479.64L701.3 1494.51" stroke="#70c6c6"/>
<path d="M701.3 1494.51L721.1 1494.51" stroke="#5cbebe"/>
<path d="M721.1 1494.51L721.1 1485.76" stroke="#70c6c6"/>
<path d="M721.1 1485.76L732.5 1485.76" stroke="#5cbebe"/>
<path d="M721.1 1494.51L721.1 1503.25" stroke="#70c6c6"/>
<path d="M721.1 1503.25L725 1503.25" stroke="#5cbebe"/>
<path d="M725 1503.25L725 1495.09" stroke="#70c6c6"/>
<path d="M725 1495.09L815.5 1495.09" stroke="#5cbebe"/>
<path d="M725 1503.25L725 1511.42" stroke="#70c6c6"/>
<path d="M725 1511.42L725 1504.42" stroke="#70c6c6"/>
<path d="M725 1504.42L780 1504.42" stroke="#5cbebe"/>
<path d="M725 1511.42L725 1518.41" stroke="#70c6c6"/>
<path d="M725 1518.41L763.25 1518.41" stroke="#5cbebe"/>
<path d="M763.25 1518.41L763.25 1513.75" stroke="#70c6c6"/>
<path d="M763.25 1513.75L774.25 1513.75" stroke="#5cbebe"/>
<path d="M763.25 1518.41L763.25 1523.08" stroke="#70c6c6"/>
<path d="M763.25 1523.08L797.5 1523.08" stroke="#5cbebe"/>
<path d="M662.5 1525.08L662.5 1570.52" stroke="#c8c8c8"/>
<path d="M662.5 1570.52L683 1570.52" stroke="#c0c0c0"/>
<path d="M683 1570.52L683 1540.57" stroke="#c8c8c8"/>
<path d="M683 1540.57L697.7 1540.57" stroke="#c0c0c0"/>
<path d="M697.7 1540.57L697.7 1532.41" stroke="#c8c8c8"/>
<path d="M697.7 1532.41L715.1 1532.41" stroke="#c0c0c0"/>
<path d="M697.7 1540.57L697.7 1548.73" stroke="#c8c8c8"/>
<path d="M697.7 1548.73L722.4 1548.73" stroke="#c0c0c0"/>
<path d="M722.4 1548.73L722.4 1541.74" stroke="#c8c8c8"/>
<path d="M722.4 1541.74L727 1541.74" stroke="#c0c0c0"/>
<path d="M722.4 1548.73L722.4 1555.73" stroke="#c8c8c8"/>
<path d="M722.4 1555.73L727.4 1555.73" stroke="#c0c0c0"/>
<path d="M727.4 1555.73L727.4 1551.06" stroke="#c8c8c8"/>
<path d="M727.4 1551.06L732.5 1551.06" stroke="#c0c0c0"/>
<path d="M727.4 1555.73L727.4 1560.39" stroke="#c8c8c8"/>
<path d="M727.4 1560.39L761.8 1560.39" stroke="#c0c0c0"/>
<path d="M683 1570.52L683 1600.48" stroke="#c8c8c8"/>
<path d="M683 1600.48L715.2 1600.48" stroke="#c0c0c0"/>
<path d="M715.2 1600.48L715.2 1577.88" stroke="#c8c8c8"/>
<path d="M715.2 1577.88L723.3 1577.88" stroke="#c0c0c0"/>
<path d="M723.3 1577.88L723.3 1569.72" stroke="#c8c8c8"/>
<path d="M723.3 1569.72L725.7 1569.72" stroke="#c0c0c0"/>
<path d="M723.3 1577.88L723.3 1586.05" stroke="#c8c8c8"/>
<path d="M723.3 1586.05L746.7 1586.05" stroke="#c0c0c0"/>
<path d="M746.7 1586.05L746.7 1579.05" stroke="#c8c8c8"/>
<path d="M746.7 1579.05L750.2 1579.05" stroke="#c0c0c0"/>
<path d="M746.7 1586.05L746.7 1593.04" stroke="#c8c8c8"/>
<path d="M746.7 1593.04L751.8 1593.04" stroke="#c0c0c0"/>
<path d="M751.8 1593.04L751.8 1588.38" stroke="#c8c8c8"/>
<path d="M751.8 1588.38L850.5 1588.38" stroke="#c0c0c0"/>
<path d="M751.8 1593.04L751.8 1597.71" stroke="#c8c8c8"/>
<path d="M751.8 1597.71L815.5 1597.71" stroke="#c0c0c0"/>
<path d="M715.2 1600.48L715.2 1623.07" stroke="#c8c8c8"/>
<path d="M715.2 1623.07L734.5 1623.07" stroke="#c0c0c0"/>
<path d="M734.5 1623.07L734.5 1611.7" stroke="#c8c8c8"/>
<path d="M734.5 1611.7L736.2 1611.7" stroke="#c0c0c0"/>
<path d="M736.2 1611.7L736.2 1607.04" stroke="#c8c8c8"/>
<path d="M736.2 1607.04L738.5 1607.04" stroke="#c0c0c0"/>
<path d="M736.2 1611.7L736.2 1616.37" stroke="#c8c8c8"/>
<path d="M736.2 1616.37L761.8 1616.37" stroke="#c0c0c0"/>
<path d="M734.5 1623.07L734.5 1634.44" stroke="#c8c8c8"/>
<path d="M734.5 1634.44L742 1634.44" stroke="#c0c0c0"/>
<path d="M742 1634.44L742 1625.69" stroke="#c8c8c8"/>
<path d="M742 1625.69L744.3 1625.69" stroke="#c0c0c0"/>
<path d="M742 1634.44L742 1643.19" stroke="#c8c8c8"/>
<path d="M742 1643.19L774.7 1643.19" stroke="#c0c0c0"/>
<path d="M774.7 1643.19L774.7 1635.02" stroke="#c8c8c8"/>
<path d="M774.7 1635.02L850.5 1635.02" stroke="#c0c0c0"/>
<path d="M774.7 1643.19L774.7 1651.35" stroke="#c8c8c8"/>
<path d="M774.7 1651.35L791.5 1651.35" stroke="#c0c0c0"/>
<path d="M791.5 1651.35L791.5 1644.35" stroke="#c8c8c8"/>
<path d="M791.5 1644.35L873.8 1644.35" stroke="#c0c0c0"/>
<path d="M791.5 1651.35L791.5 1658.34" stroke="#c8c8c8"/>
<path d="M791.5 1658.34L794.5 1658.34" stroke="#c0c0c0"/>
<path d="M794.5 1658.34L794.5 1653.68" stroke="#c8c8c8"/>
<path d="M794.5 1653.68L797.5 1653.68" stroke="#c0c0c0"/>
<path d="M794.5 1658.34L794.5 1663.01" stroke="#c8c8c8"/>
<path d="M794.5 1663.01L803.4 1663.01" stroke="#c0c0c0"/>
</g>
<g fill="#e2203c" stroke="#5a1218" stroke-width="0.6">
<rect x="770.65" y="83.21" width="6.5" height="6.5" rx="1.9"/>
<rect x="746.95" y="223.14" width="6.5" height="6.5" rx="1.9"/>
<rect x="658.45" y="297.77" width="6.5" height="6.5" rx="1.9"/>
<rect x="794.55" y="307.1" width="6.5" height="6.5" rx="1.9"/>
<rect x="788.55" y="316.43" width="6.5" height="6.5" rx="1.9"/>
<rect x="770.95" y="325.75" width="6.5" height="6.5" rx="1.9"/>
<rect x="823.75" y="335.08" width="6.5" height="6.5" rx="1.9"/>
<rect x="752.75" y="344.41" width="6.5" height="6.5" rx="1.9"/>
<rect x="782.45" y="353.74" width="6.5" height="6.5" rx="1.9"/>
<rect x="711.75" y="363.07" width="6.5" height="6.5" rx="1.9"/>
<rect x="729.75" y="372.4" width="6.5" height="6.5" rx="1.9"/>
<rect x="705.75" y="381.73" width="6.5" height="6.5" rx="1.9"/>
<rect x="782.35" y="409.71" width="6.5" height="6.5" rx="1.9"/>
<rect x="688.05" y="419.04" width="6.5" height="6.5" rx="1.9"/>
<rect x="723.5" y="437.7" width="6.5" height="6.5" rx="1.9"/>
<rect x="729.25" y="447.03" width="6.5" height="6.5" rx="1.9"/>
<rect x="758.75" y="456.36" width="6.5" height="6.5" rx="1.9"/>
<rect x="800.5" y="465.69" width="6.5" height="6.5" rx="1.9"/>
<rect x="711.75" y="475.01" width="6.5" height="6.5" rx="1.9"/>
<rect x="723.5" y="484.34" width="6.5" height="6.5" rx="1.9"/>
<rect x="806.25" y="493.67" width="6.5" height="6.5" rx="1.9"/>
<rect x="829.75" y="503" width="6.5" height="6.5" rx="1.9"/>
<rect x="794.25" y="512.33" width="6.5" height="6.5" rx="1.9"/>
<rect x="735.5" y="521.66" width="6.5" height="6.5" rx="1.9"/>
<rect x="776.25" y="530.99" width="6.5" height="6.5" rx="1.9"/>
<rect x="652.75" y="540.31" width="6.5" height="6.5" rx="1.9"/>
<rect x="640.75" y="558.97" width="6.5" height="6.5" rx="1.9"/>
<rect x="646.85" y="568.3" width="6.5" height="6.5" rx="1.9"/>
<rect x="640.75" y="577.63" width="6.5" height="6.5" rx="1.9"/>
<rect x="658.05" y="586.96" width="6.5" height="6.5" rx="1.9"/>
<rect x="782.65" y="605.62" width="6.5" height="6.5" rx="1.9"/>
<rect x="800.25" y="614.94" width="6.5" height="6.5" rx="1.9"/>
<rect x="693.75" y="624.27" width="6.5" height="6.5" rx="1.9"/>
<rect x="646.85" y="633.6" width="6.5" height="6.5" rx="1.9"/>
<rect x="664.25" y="642.93" width="6.5" height="6.5" rx="1.9"/>
<rect x="711.45" y="661.59" width="6.5" height="6.5" rx="1.9"/>
<rect x="646.85" y="708.23" width="6.5" height="6.5" rx="1.9"/>
<rect x="652.75" y="717.56" width="6.5" height="6.5" rx="1.9"/>
<rect x="640.75" y="726.89" width="6.5" height="6.5" rx="1.9"/>
<rect x="676.35" y="745.55" width="6.5" height="6.5" rx="1.9"/>
<rect x="693.85" y="754.87" width="6.5" height="6.5" rx="1.9"/>
<rect x="729.35" y="782.86" width="6.5" height="6.5" rx="1.9"/>
<rect x="788.35" y="820.18" width="6.5" height="6.5" rx="1.9"/>
<rect x="682.35" y="848.16" width="6.5" height="6.5" rx="1.9"/>
<rect x="758.85" y="866.82" width="6.5" height="6.5" rx="1.9"/>
<rect x="758.75" y="885.48" width="6.5" height="6.5" rx="1.9"/>
<rect x="693.75" y="894.81" width="6.5" height="6.5" rx="1.9"/>
<rect x="741" y="922.79" width="6.5" height="6.5" rx="1.9"/>
<rect x="723" y="941.45" width="6.5" height="6.5" rx="1.9"/>
<rect x="688" y="950.78" width="6.5" height="6.5" rx="1.9"/>
<rect x="711.75" y="960.11" width="6.5" height="6.5" rx="1.9"/>
<rect x="699.75" y="969.43" width="6.5" height="6.5" rx="1.9"/>
<rect x="706" y="978.76" width="6.5" height="6.5" rx="1.9"/>
<rect x="693.75" y="988.09" width="6.5" height="6.5" rx="1.9"/>
<rect x="699.75" y="997.42" width="6.5" height="6.5" rx="1.9"/>
<rect x="670.5" y="1006.75" width="6.5" height="6.5" rx="1.9"/>
<rect x="664.25" y="1016.08" width="6.5" height="6.5" rx="1.9"/>
<rect x="658.5" y="1025.41" width="6.5" height="6.5" rx="1.9"/>
<rect x="705.5" y="1044.06" width="6.5" height="6.5" rx="1.9"/>
<rect x="723" y="1053.39" width="6.5" height="6.5" rx="1.9"/>
<rect x="664.25" y="1062.72" width="6.5" height="6.5" rx="1.9"/>
<rect x="723.5" y="1072.05" width="6.5" height="6.5" rx="1.9"/>
<rect x="800.5" y="1081.38" width="6.5" height="6.5" rx="1.9"/>
<rect x="705.75" y="1090.71" width="6.5" height="6.5" rx="1.9"/>
<rect x="764.75" y="1100.04" width="6.5" height="6.5" rx="1.9"/>
<rect x="729.35" y="1109.37" width="6.5" height="6.5" rx="1.9"/>
<rect x="735.15" y="1118.69" width="6.5" height="6.5" rx="1.9"/>
<rect x="747.15" y="1128.02" width="6.5" height="6.5" rx="1.9"/>
<rect x="729.35" y="1146.68" width="6.5" height="6.5" rx="1.9"/>
<rect x="711.55" y="1156.01" width="6.5" height="6.5" rx="1.9"/>
<rect x="705.75" y="1174.67" width="6.5" height="6.5" rx="1.9"/>
<rect x="741.25" y="1183.99" width="6.5" height="6.5" rx="1.9"/>
<rect x="735.45" y="1193.32" width="6.5" height="6.5" rx="1.9"/>
<rect x="758.85" y="1202.65" width="6.5" height="6.5" rx="1.9"/>
<rect x="682.05" y="1221.31" width="6.5" height="6.5" rx="1.9"/>
<rect x="688.25" y="1230.64" width="6.5" height="6.5" rx="1.9"/>
<rect x="717.55" y="1239.97" width="6.5" height="6.5" rx="1.9"/>
<rect x="734.85" y="1249.3" width="6.5" height="6.5" rx="1.9"/>
<rect x="705.55" y="1258.62" width="6.5" height="6.5" rx="1.9"/>
<rect x="758.85" y="1267.95" width="6.5" height="6.5" rx="1.9"/>
<rect x="729.45" y="1305.27" width="6.5" height="6.5" rx="1.9"/>
<rect x="729.45" y="1314.6" width="6.5" height="6.5" rx="1.9"/>
<rect x="735.35" y="1323.93" width="6.5" height="6.5" rx="1.9"/>
<rect x="800.35" y="1333.25" width="6.5" height="6.5" rx="1.9"/>
<rect x="729.35" y="1361.24" width="6.5" height="6.5" rx="1.9"/>
<rect x="841.25" y="1417.21" width="6.5" height="6.5" rx="1.9"/>
<rect x="788.05" y="1426.54" width="6.5" height="6.5" rx="1.9"/>
<rect x="812.25" y="1435.87" width="6.5" height="6.5" rx="1.9"/>
<rect x="658.3" y="1445.2" width="6.5" height="6.5" rx="1.9"/>
<rect x="705.75" y="1454.53" width="6.5" height="6.5" rx="1.9"/>
<rect x="729.25" y="1482.51" width="6.5" height="6.5" rx="1.9"/>
<rect x="812.25" y="1491.84" width="6.5" height="6.5" rx="1.9"/>
<rect x="776.75" y="1501.17" width="6.5" height="6.5" rx="1.9"/>
<rect x="771" y="1510.5" width="6.5" height="6.5" rx="1.9"/>
<rect x="794.25" y="1519.83" width="6.5" height="6.5" rx="1.9"/>
<rect x="711.85" y="1529.16" width="6.5" height="6.5" rx="1.9"/>
<rect x="758.55" y="1557.14" width="6.5" height="6.5" rx="1.9"/>
<rect x="735.25" y="1603.79" width="6.5" height="6.5" rx="1.9"/>
<rect x="847.25" y="1631.77" width="6.5" height="6.5" rx="1.9"/>
<rect x="794.25" y="1650.43" width="6.5" height="6.5" rx="1.9"/>
<rect x="800.15" y="1659.76" width="6.5" height="6.5" rx="1.9"/>
</g>
<g font-family="Liberation Sans, sans-serif" font-size="6.0" fill="#303030">
<text x="366.7" y="3.55">G2194|Chi|05|01|2020 - Wuhan</text>
<text x="419.5" y="12.88">G733|OC|24|01|2020_ancestor_taxon</text>
<text x="449.6" y="22.21">G2562|NoAm|19|01|2020 - USA</text>
<text x="478.7" y="31.54">G733|OC|24|01|2020 - Australia - Travel History to China</text>
<text x="508.5" y="40.86">G3178|Brit|29|01|2020 - UK</text>
<text x="699.3" y="50.19">G1230|CeEu|02|03|2020 - Spain</text>
<text x="650" y="59.52">G1145|SoAm|03|03|2020_ancestor_taxon</text>
<text x="674" y="68.85">G1900|CeEu|26|02|2020 - France</text>
<text x="716" y="78.18">G304|NoAm|04|03|2020 - USA</text>
<text x="780" y="87.51">L427|NoITLO|15|03|2020</text>
<text x="708.7" y="96.84">G1145|SoAm|03|03|2020 - Brazil - Travel History to Spain</text>
<text x="738.7" y="106.17">G1424|WeAs|08|03|2020 - Georgia</text>
<text x="744" y="115.49">G627|EuLC|09|03|2020 - NL</text>
<text x="722.7" y="124.82">G1134|SoAm|16|03|2020_ancestor_taxon</text>
<text x="785.3" y="134.15">G1134|SoAm|16|03|2020 - Chile - Travel History to Italy</text>
<text x="330" y="143.48">G1799|Chi|30|12|2019 - Wuhan</text>
<text x="331" y="152.81">G2729|Chi|30|12|2019 - Wuhan</text>
<text x="331" y="162.14">G2623|Chi|30|12|2019 - Wuhan</text>
<text x="384" y="171.47">G2893|Chi|08|01|2020</text>
<text x="479.3" y="180.8">G2908|Chi|24|01|2020 - Wuhan</text>
<text x="567.8" y="190.12">G3073|Brit|08|02|2020 - UK</text>
<text x="685" y="199.45">G4|OC|28|02|2020 - Australia</text>
<text x="703.5" y="208.78">G1041|EuLC|02|03|2020 - NL</text>
<text x="785.9" y="218.11">G3053|Brit|16|03|2020 - UK</text>
<text x="755.3" y="227.44">L228|NoITMI|11|03|2020</text>
<text x="749.6" y="236.77">G1409|SoEaAs|10|03|2020 - Singapore</text>
<text x="755.9" y="246.1">G1432|SoEaAs|11|03|2020 - Singapore</text>
<text x="779.4" y="255.42">G693|Brit|15|03|2020 - Scotland</text>
<text x="343" y="264.75">G2693|Chi|01|01|2020 - Wuhan</text>
<text x="343" y="274.08">G2887|Chi|31|12|2019</text>
<text x="502.3" y="280.71">G785|CeEu|28|01|2020 - Germany (Bav. Pat.)</text>
<text x="479" y="291.44">G59|Chi|24|01|2020 - Zhejiang</text>
<text x="668" y="302.07">L274|NoITPV|25|02|2020</text>
<text x="804.1" y="311.4">L436|NoITPV|19|03|2020</text>
<text x="797.8" y="320.73">L418|NoITPV|18|03|2020</text>
<text x="780.2" y="330.05">L403|NoITPV|15|03|2020</text>
<text x="833" y="339.38">L452|NoITPV|24|03|2020</text>
<text x="762" y="348.71">L419|NoITPV|12|03|2020</text>
<text x="791.8" y="358.04">L424|NoITOT|17|03|2020</text>
<text x="720.5" y="367.37">L362|NoITPV|05|03|2020</text>
<text x="738.4" y="376.7">L373|NoITPV|08|03|2020</text>
<text x="714" y="386.03">L346|NoITMI|04|03|2020</text>
<text x="705.6" y="395.36">G2685|NoEu|03|03|2020 - Denmark</text>
<text x="768" y="404.68">G844|Brit|13|03|2020 - UK</text>
<text x="791.6" y="414.01">L134|NoITCO|17|03|2020</text>
<text x="697.2" y="423.34">L318|NoITCR|01|03|2020</text>
<text x="691.25" y="432.67">G1055|EuLC|29|02|2020 - Luxembourg</text>
<text x="732.5" y="442">L370|NoITPV|07|03|2020</text>
<text x="738.75" y="451.33">L378|NoITPV|08|03|2020</text>
<text x="768" y="460.66">L407|NoITPV|13|03|2020</text>
<text x="809.25" y="469.98">L434|NoITPV|20|03|2020</text>
<text x="721.25" y="479.31">L356|NoITPV|05|03|2020</text>
<text x="732.5" y="488.64">L369|NoITPV|07|03|2020</text>
<text x="815" y="497.97">L438|NoITPV|21|03|2020</text>
<text x="838.75" y="507.3">L160|NoITMI|25|03|2020</text>
<text x="803.75" y="516.63">L432|NoITPV|19|03|2020</text>
<text x="744.5" y="525.96">L393|NoITPV|09|03|2020</text>
<text x="785.5" y="535.29">L462|NoITPV|16|03|2020</text>
<text x="661.9" y="544.61">G1534|NoIT|24|02|2020</text>
<text x="644" y="553.94">CDG/21|02|2020</text>
<text x="650.1" y="563.27">L251|NoITCR|22|02|2020</text>
<text x="656" y="572.6">L254|NoITCR|23|02|2020</text>
<text x="650" y="581.93">L249|NoITCR|22|02|2020</text>
<text x="668" y="591.26">L273|NoITCR|25|02|2020</text>
<text x="903.5" y="600.59">G2778|SoAs|05|04|2020 - India</text>
<text x="792" y="609.92">L415|NoITLO|17|03|2020</text>
<text x="809.3" y="619.24">L491|NoITOT|20|03|2020</text>
<text x="702.7" y="628.57">L441|NoITLO|02|03|2020</text>
<text x="656" y="637.9">L230|NoITMI|23|02|2020</text>
<text x="673.9" y="647.23">L98|NoITMI|26|02|2020</text>
<text x="714.7" y="656.56">G3150|EuLC|04|03|2020 - NL</text>
<text x="720.5" y="665.89">L358|NoITLO|05|03|2020</text>
<text x="801.9" y="675.22">G1946|EaAs|10|03|2020 - Taiwan</text>
<text x="735.2" y="684.55">G620|EuLC|06|03|2020 - NL</text>
<text x="886.7" y="693.87">G582|EuLC|02|04|2020 - NL</text>
<text x="886.7" y="703.2">G585|EuLC|02|04|2020 - NL</text>
<text x="656" y="712.53">L256|NoITPV|23|02|2020</text>
<text x="662.1" y="721.86">L265|NoITCR|24|02|2020</text>
<text x="650" y="731.19">L250|NoITCR|22|02|2020</text>
<text x="809.8" y="740.52">G891|CeEu|20|03|2020 - Spain</text>
<text x="685.3" y="749.85">L284|NoITCR|28|02|2020</text>
<text x="702.7" y="759.17">L328|NoITPV|02|03|2020</text>
<text x="679.1" y="768.5">G1968|CeEu|27|02|2020 - Switzerland</text>
<text x="679.1" y="777.83">G2118|CeEu|27|02|2020 - Switzerland</text>
<text x="738.2" y="787.16">L204|NoITMI|08|03|2020</text>
<text x="792" y="796.49">G786|EaEu|17|03|2020 - Hungary</text>
<text x="863.1" y="805.82">G858|CeEu|29|03|2020 - Spain</text>
<text x="786.2" y="815.15">G1426|WeAs|16|03|2020 - Georgia</text>
<text x="798.1" y="824.48">L422|NoITPV|18|03|2020</text>
<text x="798.1" y="833.8">G2806|EaAs|17|03|2020 - Taiwan</text>
<text x="863.1" y="843.13">G859|CeEu|29|03|2020 - Spain</text>
<text x="691" y="852.46">L299|NoITOT|29|02|2020</text>
<text x="762.5" y="861.79">G1047|CeEu|12|03|2020 - Spain</text>
<text x="767.9" y="871.12">L398|NoITPV|13|03|2020</text>
<text x="685.5" y="880.45">G2514|NoAm|28|02|2020 - USA</text>
<text x="768" y="889.78">L459|NoITPV|11|03|2020</text>
<text x="703" y="899.11">L53|NoITBG|02|03|2020</text>
<text x="765.5" y="908.43">G20|OC|13|03|2020 - Australia</text>
<text x="789.25" y="917.76">G788|EaEu|17|03|2020 - Hungary</text>
<text x="750" y="927.09">L80|NoITCO|10|03|2020</text>
<text x="712" y="936.42">G1154|CeIT|04|03|2020 - Lazio</text>
<text x="732.5" y="945.75">L367|NoITPV|07|03|2020</text>
<text x="697" y="955.08">L325|NoITBG|01|03|2020</text>
<text x="720.75" y="964.41">L107|NoITMI|05|03|2020</text>
<text x="708.75" y="973.73">L63|NoITBG|03|03|2020</text>
<text x="715" y="983.06">L62|NoITBG|04|03|2020</text>
<text x="703" y="992.39">L116|NoITMI|02|03|2020</text>
<text x="708.75" y="1001.72">L79|NoITCO|03|03|2020</text>
<text x="679.5" y="1011.05">L60|NoITBG|27|02|2020</text>
<text x="673.75" y="1020.38">L276|NoITBG|26|02|2020</text>
<text x="667.5" y="1029.71">L270|NoITBG|25|02|2020</text>
<text x="679.25" y="1039.04">G2607|CeEu|27|02|2020 - Switzerland</text>
<text x="715" y="1048.36">L345|NoITBG|04|03|2020</text>
<text x="732.5" y="1057.69">L115|NoITLC|07|03|2020</text>
<text x="673.75" y="1067.02">L54|NoITBG|26|02|2020</text>
<text x="732.5" y="1076.35">L148|NoITMI|07|03|2020</text>
<text x="809.5" y="1085.68">L186|NoITLC|20|03|2020</text>
<text x="715" y="1095.01">L239|NoITMI|04|03|2020</text>
<text x="773.75" y="1104.34">L225|NoITMI|14|03|2020</text>
<text x="738.75" y="1113.67">L206|NoITMI|08|03|2020</text>
<text x="744.5" y="1122.99">L117|NoITLC|09|03|2020</text>
<text x="756.25" y="1132.32">L220|NoITMI|11|03|2020</text>
<text x="673.7" y="1141.65">G1863|EaEu|2020|02 - Lithuania</text>
<text x="738.7" y="1150.98">L88|NoITCO|08|03|2020</text>
<text x="720.7" y="1160.31">L76|NoITCO|05|03|2020</text>
<text x="705.1" y="1169.64">G1171|CeIT|03|03|2020 - Marche</text>
<text x="714.4" y="1178.97">L58|NoITLC|04|03|2020</text>
<text x="750.2" y="1188.29">L426|NoITBG|10|03|2020</text>
<text x="744.1" y="1197.62">L395|NoITCO|09|03|2020</text>
<text x="767.9" y="1206.95">L125|NoITCO|13|03|2020</text>
<text x="690.7" y="1216.28">G2445|NoAm|29|02|2020 - USA</text>
<text x="690.7" y="1225.61">L310|NoITBG|29|02|2020</text>
<text x="697.3" y="1234.94">L319|NoITBG|01|03|2020</text>
<text x="726.7" y="1244.27">L96|NoITBG|06|03|2020</text>
<text x="744" y="1253.6">L113|NoITLC|09|03|2020</text>
<text x="714.7" y="1262.92">L57|NoITLC|04|03|2020</text>
<text x="768" y="1272.25">L224|NoITCO|13|03|2020</text>
<text x="661.3" y="1281.58">G1744|SoAm|05|03|2020_ancestor_taxon</text>
<text x="718" y="1290.91">G1744|SoAm|05|03|2020 - Brazil - Travel to Italy</text>
<text x="797.7" y="1300.24">G277|SoAm|18|03|2020 - Brazil</text>
<text x="738.6" y="1309.57">L100|NoITOT|08|03|2020</text>
<text x="737.5" y="1318.9">L81|NoITLC|08|03|2020</text>
<text x="745.5" y="1328.23">L97|NoITLC|09|03|2020</text>
<text x="809" y="1337.55">L166|NoITLC|20|03|2020</text>
<text x="765.7" y="1346.88">G832|Brit|13|03|2020 - UK</text>
<text x="707.2" y="1356.21">G1350|NoEu|02|03|2020 - Denmark</text>
<text x="741.1" y="1365.54">L162|NoITMI|08|03|2020</text>
<text x="738.2" y="1374.87">G2644|EaEu|18|03|2020_ancestor_taxon</text>
<text x="856.6" y="1384.2">G253|Afr|28|03|2020 - Congo</text>
<text x="797.1" y="1393.53">G2644|EaEu|18|03|2020 - Russia - Travel History to Italy</text>
<text x="874" y="1402.86">G3144|Brit|31|03|2020 - UK</text>
<text x="803.4" y="1412.18">G467|EuLC|19|03|2020 - NL</text>
<text x="851" y="1421.51">L464|NoITPV|27|03|2020</text>
<text x="799.8" y="1430.84">L420|NoITPV|16|03|2020</text>
<text x="820.8" y="1440.17">L448|NoITPV|22|03|2020</text>
<text x="667.8" y="1449.5">L272|NoITBG|25|02|2020</text>
<text x="714.2" y="1458.83">L86|NoITCO|04|03|2020</text>
<text x="720.6" y="1468.16">G1480|EuLC|05|03|2020 - Belgium</text>
<text x="726.4" y="1477.48">G1520|EuLC|06|03|2020 - Belgium</text>
<text x="738.9" y="1486.81">L380|NoITPV|08|03|2020</text>
<text x="821.25" y="1496.14">L442|NoITCO|22|03|2020</text>
<text x="785.75" y="1505.47">L138|NoITCO|16|03|2020</text>
<text x="780" y="1514.8">L153|NoITCO|15|03|2020</text>
<text x="803.25" y="1524.13">L145|NoITCO|19|03|2020</text>
<text x="720.6" y="1533.46">L361|NoITPV|05|03|2020</text>
<text x="732.5" y="1542.79">G311|CeEu|07|03|2020 - Portugal</text>
<text x="736.2" y="1552.11">G314|CeEu|08|03|2020 - Portugal</text>
<text x="767.7" y="1561.44">L150|NoITLC|13|03|2020</text>
<text x="732.2" y="1570.77">G330|CeEu|07|03|2020 - Portugal</text>
<text x="753.7" y="1580.1">G2282|NoAm|11|03|2020 - Canada</text>
<text x="855.9" y="1589.43">G462|EuLC|28|03|2020 - NL</text>
<text x="821.3" y="1598.76">G1314|NoAm|22|03|2020 - USA</text>
<text x="744.3" y="1608.09">L395|NoITCO|09|03|2020</text>
<text x="768.1" y="1617.42">G838|Brit|13|03|2020 -Scotland</text>
<text x="747.8" y="1626.74">G318|CeEu|10|03|2020 - Portugal</text>
<text x="856.8" y="1636.07">L439|NoITPV|28|03|2020</text>
<text x="880.1" y="1645.4">G3040|Brit|01|04|2020 - UK</text>
<text x="803.8" y="1654.73">L430|NoITPV|19|03|2020</text>
<text x="809.2" y="1664.06">L444|NoITPV|20|03|2020</text>
</g>
<g font-family="Liberation Sans, sans-serif" font-size="6.0" fill="#303030" text-anchor="end">
<text x="216.7" y="120.45">1.00</text>
<text x="316" y="17.85">1.00</text>
<text x="383.3" y="36.45">0.64</text>
<text x="630" y="56.85">1.00</text>
<text x="641" y="73.75">0.99</text>
<text x="658.4" y="92.85">0.5</text>
<text x="718" y="126.15">0.81</text>
<text x="439.3" y="185.95">0.93</text>
<text x="480.7" y="196.35">0.9</text>
<text x="542.5" y="205.15">0.78</text>
<text x="376" y="406.15">1.00</text>
<text x="467" y="307.65">0.98</text>
<text x="606.7" y="327.15">0.97</text>
<text x="700" y="398.15">1.00</text>
<text x="726" y="405.15">0.54</text>
<text x="445.7" y="532.85">0.99</text>
<text x="469.3" y="758.65">0.51</text>
<text x="685.9" y="669.45">0.99</text>
<text x="863.5" y="695.95">0.99</text>
<text x="618.7" y="713.35">0.99</text>
<text x="614.7" y="753.85">0.99</text>
<text x="773.3" y="842.95">1.00</text>
<text x="754.5" y="909.65">0.99</text>
<text x="596.25" y="1002.15">1.00</text>
<text x="640.5" y="1033.4">1.00</text>
<text x="692" y="1049.15">0.73</text>
<text x="552" y="1313.65">1.00</text>
<text x="644" y="1222.95">1.00</text>
<text x="662.1" y="1234.15">1.00</text>
<text x="702.8" y="1292.35">0.97</text>
<text x="722.8" y="1331.95">1.00</text>
<text x="643.8" y="1355.35">1.00</text>
<text x="687.3" y="1367.35">1.00</text>
<text x="767.2" y="1424.95">1.00</text>
<text x="781.7" y="1432.15">1.00</text>
<text x="698.6" y="1478.95">1.00</text>
<text x="704.1" y="1464.25">1.00</text>
<text x="681.2" y="1567.85">1.00</text>
<text x="742.5" y="1585.15">0.99</text>
<text x="749.5" y="1598.65">0.53</text>
</g>
<g stroke="#555" stroke-width="1" fill="none">
<path d="M82.5 1677.5H898"/>
<path d="M87.7 1677.5V1680.5"/>
<path d="M141.7 1677.5V1680.5"/>
<path d="M195.7 1677.5V1680.5"/>
<path d="M249.7 1677.5V1680.5"/>
<path d="M303.7 1677.5V1680.5"/>
<path d="M357.7 1677.5V1680.5"/>
<path d="M411.7 1677.5V1680.5"/>
<path d="M465.7 1677.5V1680.5"/>
<path d="M519.7 1677.5V1680.5"/>
<path d="M573.7 1677.5V1680.5"/>
<path d="M627.7 1677.5V1680.5"/>
<path d="M681.7 1677.5V1680.5"/>
<path d="M735.7 1677.5V1680.5"/>
<path d="M789.7 1677.5V1680.5"/>
<path d="M843.7 1677.5V1680.5"/>
<path d="M897.7 1677.5V1680.5"/>
</g>
<g font-family="Liberation Sans, sans-serif" font-size="15" fill="#111" text-anchor="middle">
<text x="43" y="1699.3">December, 2</text>
<text x="143" y="1699.3">December, 12</text>
<text x="246" y="1699.3">January, 1</text>
<text x="357.7" y="1699.3">January, 18</text>
<text x="463" y="1699.3">February, 5</text>
<text x="569" y="1699.3">February, 23</text>
<text x="682" y="1699.3">March, 13</text>
<text x="789" y="1699.3">March, 31</text>
<text x="900.7" y="1699.3">April,18</text>
</g>
</svg>
</body></html>
